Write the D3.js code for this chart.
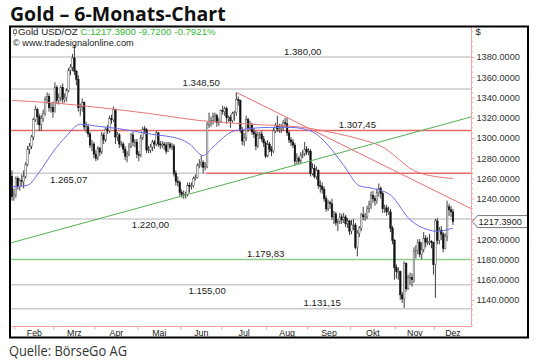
<!DOCTYPE html>
<html>
<head>
<meta charset="utf-8">
<script src="https://cdn.jsdelivr.net/npm/d3@7"></script>
<style>
  body { margin: 0; background: #fff; }
  svg { display: block; }
  text { font-family: "Liberation Sans", Arial, sans-serif; }
</style>
</head>
<body>
<svg id="chart" width="540" height="362"></svg>
<script>
// daily bars per month, [day, open, high, low, close] (2014)
const jan = [[30,1262,1268,1238,1242],[31,1242,1250,1238,1244]];
const feb = [[3,1244,1262,1241,1260],[4,1260,1262,1249,1252],[5,1252,1260,1248,1258],[6,1258,1264,1252,1257],[7,1257,1268,1250,1262],
  [10,1262,1276,1260,1274],[11,1274,1292,1272,1289],[12,1289,1295,1284,1292],[13,1292,1303,1289,1301],[14,1301,1320,1298,1318],
  [17,1318,1332,1316,1328],[18,1328,1330,1313,1321],[19,1321,1324,1307,1313],[20,1313,1323,1307,1319],[21,1319,1328,1316,1324],
  [24,1324,1341,1322,1338],[25,1338,1345,1334,1341],[26,1341,1344,1326,1330],[27,1330,1335,1325,1330],[28,1330,1336,1320,1326]];
const mar = [[3,1326,1355,1325,1350],[4,1350,1352,1334,1337],[5,1337,1344,1333,1340],[6,1340,1352,1336,1350],[7,1350,1354,1334,1338],
  [10,1338,1344,1335,1340],[11,1340,1349,1336,1347],[12,1347,1369,1345,1367],[13,1367,1373,1362,1370],[14,1370,1383,1366,1379],
  [17,1379,1392,1362,1366],[18,1366,1367,1352,1358],[19,1358,1362,1326,1330],[20,1330,1334,1322,1331],[21,1331,1339,1326,1335],
  [24,1335,1336,1308,1311],[25,1311,1316,1305,1311],[26,1311,1314,1301,1304],[27,1304,1306,1290,1293],[28,1293,1298,1287,1294],
  [31,1294,1296,1280,1284]];
const apr = [[1,1284,1288,1277,1280],[2,1280,1292,1278,1290],[3,1290,1291,1282,1286],[4,1286,1306,1284,1303],
  [7,1303,1305,1294,1298],[8,1298,1311,1296,1309],[9,1309,1313,1304,1307],[10,1307,1322,1305,1319],[11,1319,1323,1314,1318],
  [14,1318,1331,1316,1328],[15,1328,1329,1294,1301],[16,1301,1306,1297,1303],[17,1303,1305,1290,1294],[18,1294,1297,1291,1294],
  [21,1294,1296,1285,1289],[22,1289,1292,1278,1282],[23,1282,1287,1276,1284],[24,1284,1295,1282,1292],[25,1292,1305,1290,1303],
  [28,1303,1306,1292,1296],[29,1296,1299,1291,1296],[30,1296,1299,1280,1284]];
const may = [[1,1284,1287,1277,1283],[2,1283,1303,1281,1300],
  [5,1300,1311,1298,1309],[6,1309,1312,1304,1308],[7,1308,1310,1285,1288],[8,1288,1292,1285,1288],[9,1288,1294,1285,1291],
  [12,1291,1298,1287,1296],[13,1296,1298,1289,1294],[14,1294,1307,1292,1305],[15,1305,1306,1291,1294],[16,1294,1297,1289,1293],
  [19,1293,1297,1290,1294],[20,1294,1296,1288,1293],[21,1293,1296,1284,1287],[22,1287,1296,1286,1294],[23,1294,1296,1289,1291],
  [26,1291,1295,1288,1292],[27,1292,1294,1262,1265],[28,1265,1268,1253,1257],[29,1257,1262,1252,1256],[30,1256,1258,1242,1246]];
const jun = [[2,1246,1249,1241,1244],[3,1244,1248,1240,1244],[4,1244,1247,1240,1244],[5,1244,1256,1242,1253],[6,1253,1256,1246,1252],
  [9,1252,1256,1249,1253],[10,1253,1262,1251,1260],[11,1260,1264,1258,1261],[12,1261,1275,1260,1273],[13,1273,1279,1270,1274],
  [16,1274,1283,1271,1276],[17,1276,1278,1265,1271],[18,1271,1276,1268,1272],[19,1272,1316,1270,1313],[20,1313,1325,1310,1316],
  [23,1316,1321,1311,1317],[24,1317,1325,1313,1321],[25,1321,1325,1316,1322],[26,1322,1324,1311,1315],[27,1315,1320,1312,1316],
  [30,1316,1328,1315,1327]];
const jul = [[1,1327,1332,1323,1326],[2,1326,1331,1322,1329],[3,1329,1331,1314,1320],[4,1320,1322,1316,1320],
  [7,1320,1323,1310,1317],[8,1317,1326,1315,1324],[9,1324,1327,1317,1325],[10,1325,1345,1322,1338],[11,1338,1341,1332,1337],
  [14,1337,1338,1305,1308],[15,1308,1311,1293,1297],[16,1297,1305,1292,1300],[17,1300,1322,1297,1318],[18,1318,1320,1306,1310],
  [21,1310,1317,1308,1313],[22,1313,1315,1303,1306],[23,1306,1310,1300,1304],[24,1304,1307,1288,1292],[25,1292,1306,1290,1303],
  [28,1303,1306,1299,1304],[29,1304,1307,1296,1299],[30,1299,1302,1291,1295],[31,1295,1297,1280,1282]];
const aug = [[1,1282,1298,1281,1294],
  [4,1294,1296,1286,1289],[5,1289,1292,1282,1287],[6,1287,1310,1285,1307],[7,1307,1315,1305,1312],[8,1312,1322,1306,1309],
  [11,1309,1314,1305,1309],[12,1309,1314,1305,1311],[13,1311,1318,1307,1315],[14,1315,1320,1311,1314],[15,1314,1320,1302,1305],
  [18,1305,1307,1295,1298],[19,1298,1301,1292,1296],[20,1296,1299,1290,1293],[21,1293,1295,1273,1277],[22,1277,1285,1274,1280],
  [25,1280,1282,1274,1277],[26,1277,1286,1275,1283],[27,1283,1288,1280,1284],[28,1284,1296,1282,1289],[29,1289,1292,1283,1286]];
const sep = [[1,1286,1290,1283,1287],[2,1287,1289,1262,1265],[3,1265,1275,1263,1270],[4,1270,1274,1260,1262],[5,1262,1272,1259,1268],
  [8,1268,1269,1250,1253],[9,1253,1258,1246,1252],[10,1252,1256,1245,1249],[11,1249,1252,1237,1240],[12,1240,1243,1227,1230],
  [15,1230,1239,1228,1236],[16,1236,1238,1230,1235],[17,1235,1240,1219,1222],[18,1222,1228,1215,1225],[19,1225,1227,1213,1216],
  [22,1216,1220,1208,1217],[23,1217,1226,1215,1222],[24,1222,1225,1215,1219],[25,1219,1226,1216,1222],[26,1222,1224,1212,1215],
  [29,1215,1221,1211,1218],[30,1218,1219,1204,1208]];
const oct = [[1,1208,1219,1205,1214],[2,1214,1220,1209,1214],[3,1214,1216,1190,1192],
  [6,1192,1209,1183,1206],[7,1206,1213,1202,1211],[8,1211,1226,1208,1224],[9,1224,1232,1219,1222],[10,1222,1226,1218,1222],
  [13,1222,1233,1220,1230],[14,1230,1238,1226,1234],[15,1234,1247,1230,1243],[16,1243,1248,1236,1240],[17,1240,1243,1233,1238],
  [20,1238,1250,1235,1246],[21,1246,1255,1242,1250],[22,1250,1252,1240,1245],[23,1245,1247,1226,1230],[24,1230,1234,1226,1231],
  [27,1231,1234,1223,1227],[28,1227,1232,1224,1227],[29,1227,1230,1207,1211],[30,1211,1213,1195,1199],[31,1199,1200,1160,1172]];
const nov = [[3,1172,1175,1161,1168],[4,1168,1172,1160,1168],[5,1168,1169,1140,1145],[6,1145,1148,1137,1141],[7,1141,1178,1132,1176],
  [10,1176,1177,1148,1151],[11,1151,1165,1150,1162],[12,1162,1167,1155,1162],[13,1162,1166,1153,1160],[14,1160,1192,1157,1188],
  [17,1188,1194,1181,1189],[18,1189,1200,1185,1197],[19,1197,1200,1182,1185],[20,1185,1197,1180,1190],[21,1190,1207,1187,1201],
  [24,1201,1204,1192,1197],[25,1197,1202,1194,1197],[26,1197,1205,1194,1198],[27,1198,1199,1191,1197],[28,1197,1197,1165,1175]];
const dec = [[1,1175,1220,1142,1218],[2,1218,1221,1195,1199],[3,1199,1212,1195,1209],[4,1209,1213,1199,1205],[5,1205,1207,1187,1191],
  [8,1191,1206,1190,1203],[9,1203,1238,1198,1232],[10,1232,1235,1223,1229],[11,1229,1233,1222,1227],[12,1227,1230,1214,1217.39]];

// moving averages
const maRedDays = ['2014-01-30','2014-02-26','2014-04-03','2014-05-09','2014-06-12','2014-07-21','2014-08-26','2014-09-16','2014-10-07','2014-10-22','2014-11-18','2014-12-12'];
const maRedValues = [1337, 1335, 1330, 1324, 1317.5, 1313.6, 1310.7, 1305.8, 1299, 1292, 1266, 1260];
const maBlueDays = ['2014-01-30','2014-02-11','2014-02-19','2014-02-28','2014-03-11','2014-03-20','2014-04-03','2014-04-16','2014-05-09',
  '2014-05-30','2014-06-06','2014-06-17','2014-06-24','2014-07-09','2014-08-04','2014-08-19','2014-09-02','2014-09-11','2014-09-25',
  '2014-10-07','2014-10-16','2014-10-29','2014-11-12','2014-11-25','2014-12-02','2014-12-12'];
const maBlueValues = [1251.8, 1253.3, 1266.4, 1286, 1302.2, 1313.6, 1311.3, 1309.4, 1303.8, 1299, 1294, 1282.6, 1291, 1307,
  1310.4, 1310.4, 1307, 1297, 1272.9, 1252.8, 1250.1, 1243.6, 1219.2, 1209.4, 1207.8, 1211];

// trend lines: green runs edge to edge, red starts at the July high
const greenTrend = [1196.4, 1320.9];
const redTrendStart = ['2014-07-10', 1345];
const redTrendEnd = 1230;

// horizontal levels
const levelValues = [1380, 1348.5, 1307.45, 1265.07, 1220, 1179.83, 1155, 1131.15];
const levelLabels = ['1.380,00', '1.348,50', '1.307,45', '1.265,07', '1.220,00', '1.179,83', '1.155,00', '1.131,15'];
const levelLabelDays = ['2014-08-27','2014-06-16','2014-10-06','2014-03-12','2014-05-09','2014-07-31','2014-06-19','2014-09-10'];
const splitDay = '2014-06-19';

const monthNames = ['Feb', 'Mrz', 'Apr', 'Mai', 'Jun', 'Jul', 'Aug', 'Sep', 'Okt', 'Nov', 'Dez'];
const axisTicks = d3.range(1140, 1381, 20);
const lastClose = 1217.39;
const quote = ['Gold USD/OZ', 'C:1217.3900 -9.7200 -0.7921%'];

/*global d3*/
let svg = d3.select('#chart');
let plot = { left: 11, right: 471.5, top: 26.5, bottom: 326.5 };

let bars = [];
[jan, feb, mar, apr, may, jun, jul, aug, sep, oct, nov, dec].forEach((rows, m) => {
	rows.forEach(r => bars.push({ date: new Date(2014, m, r[0]), o: r[1], h: r[2], l: r[3], c: r[4] }));
});
let dayKey = d3.timeFormat('%Y-%m-%d');
let barIndex = new Map(bars.map((b, i) => [dayKey(b.date), i]));

// 9 empty bar slots on the right before the axis
let x = d3.scaleLinear().domain([-0.5, bars.length - 0.5 + 9]).range([plot.left, plot.right]);
let y = d3.scaleLinear().domain([1140, 1380]).range([299.9, 57]);

svg.append('defs').append('clipPath').attr('id', 'plot-clip')
	.append('rect')
	.attr('x', plot.left).attr('y', plot.top)
	.attr('width', plot.right - plot.left).attr('height', plot.bottom - plot.top);

let g = svg.append('g').attr('clip-path', 'url(#plot-clip)');

// level lines
let grey = '#cbcbcb', red = '#e46a6a', green = '#8ccf8c';
let levelColor = { 1307.45: red, 1179.83: green };
levelValues.forEach(v => {
	let ly = y(v);
	if (v === 1265.07) {
		let xs = x(barIndex.get(splitDay) - 0.5);
		g.append('line').attr('x1', plot.left).attr('x2', xs).attr('y1', ly).attr('y2', ly)
			.attr('stroke', grey).attr('stroke-width', 1.5);
		g.append('line').attr('x1', xs).attr('x2', plot.right).attr('y1', ly).attr('y2', ly)
			.attr('stroke', red).attr('stroke-width', 1.5);
	} else {
		g.append('line').attr('x1', plot.left).attr('x2', plot.right).attr('y1', ly).attr('y2', ly)
			.attr('stroke', levelColor[v] || grey).attr('stroke-width', 1.5);
	}
});

// candles
let candle = g.append('g').selectAll('g').data(bars).join('g');
candle.append('line')
	.attr('x1', (d, i) => x(i)).attr('x2', (d, i) => x(i))
	.attr('y1', d => y(d.h)).attr('y2', d => y(d.l))
	.attr('stroke', '#2a2a2a').attr('stroke-width', 0.9);
candle.append('rect')
	.attr('x', (d, i) => x(i) - 0.8)
	.attr('width', 1.6)
	.attr('y', d => y(Math.max(d.o, d.c)))
	.attr('height', d => Math.max(0.8, Math.abs(y(d.o) - y(d.c))))
	.attr('fill', d => d.c >= d.o ? '#f4f4f4' : '#111')
	.attr('stroke', d => d.c >= d.o ? '#555' : '#111')
	.attr('stroke-width', 0.5);

// moving averages
let line = d3.line().x(d => x(barIndex.get(d[0]))).y(d => y(d[1])).curve(d3.curveMonotoneX);
g.append('path').datum(d3.zip(maRedDays, maRedValues))
	.attr('d', line).attr('fill', 'none').attr('stroke', '#e77575').attr('stroke-width', 1);
g.append('path').datum(d3.zip(maBlueDays, maBlueValues))
	.attr('d', line).attr('fill', 'none').attr('stroke', '#6c6cee').attr('stroke-width', 1);

// trend lines
g.append('line')
	.attr('x1', plot.left).attr('y1', y(greenTrend[0]))
	.attr('x2', plot.right).attr('y2', y(greenTrend[1]))
	.attr('stroke', '#55b055').attr('stroke-width', 1);
g.append('line')
	.attr('x1', x(barIndex.get(redTrendStart[0]))).attr('y1', y(redTrendStart[1]))
	.attr('x2', plot.right).attr('y2', y(redTrendEnd))
	.attr('stroke', '#e77070').attr('stroke-width', 1);

// level labels
let below = new Set([1265.07, 1220, 1155]);
levelValues.forEach((v, i) => {
	g.append('text')
		.attr('x', x(barIndex.get(levelLabelDays[i])))
		.attr('y', y(v) + (below.has(v) ? 9.5 : -2.5))
		.attr('text-anchor', 'middle')
		.attr('font-size', 9.6)
		.attr('fill', '#222')
		.text(levelLabels[i]);
});

// right axis; the 1220 label sits under the last-price box, so it gets no text
let pink = '#f0a4a4';
let axisR = svg.append('g').attr('transform', `translate(${plot.right},0)`)
	.call(d3.axisRight(y).tickValues(axisTicks).tickSize(3).tickPadding(2)
		.tickFormat(v => Math.abs(y(v) - y(lastClose)) < 8 ? '' : d3.format('.4f')(v)));
axisR.select('.domain').remove();
axisR.selectAll('.tick line').attr('stroke', pink);
axisR.selectAll('.tick text').attr('fill', '#333').attr('font-size', 9.2)
	.style('font-family', '"Liberation Sans", Arial, sans-serif');
svg.append('g').selectAll('line')
	.data(d3.range(1115, 1406, 5).filter(v => v % 20 !== 0))
	.join('line')
	.attr('x1', plot.right).attr('x2', plot.right + 1.5)
	.attr('y1', d => y(d)).attr('y2', d => y(d))
	.attr('stroke', pink);
svg.append('line').attr('x1', plot.right).attr('x2', plot.right)
	.attr('y1', plot.top).attr('y2', plot.bottom).attr('stroke', pink);
svg.append('text').attr('x', plot.right + 4).attr('y', plot.top + 8)
	.attr('font-size', 9.5).attr('fill', '#222').text('$');

// last price box
let py = y(lastClose);
svg.append('path')
	.attr('d', `M${plot.right + 1},${py} L${plot.right + 6},${py - 6} H${plot.right + 56} V${py + 6} H${plot.right + 6} Z`)
	.attr('fill', '#fff').attr('stroke', '#555').attr('stroke-width', 0.8);
svg.append('text').attr('x', plot.right + 7).attr('y', py + 3.3)
	.attr('font-size', 9.2).attr('fill', '#222').text(d3.format('.4f')(lastClose));

// bottom axis
svg.append('line').attr('x1', plot.left).attr('x2', plot.right)
	.attr('y1', plot.bottom).attr('y2', plot.bottom).attr('stroke', pink);
let monthStarts = monthNames.map((m, k) => bars.findIndex(b => b.date.getMonth() === k + 1));
monthStarts.forEach((s, k) => {
	let tx = x(s - 0.5);
	let nx = k < monthStarts.length - 1 ? x(monthStarts[k + 1] - 0.5) : plot.right;
	svg.append('line').attr('x1', tx).attr('x2', tx)
		.attr('y1', plot.bottom).attr('y2', plot.bottom + 3).attr('stroke', pink);
	svg.append('text').attr('x', (tx + nx) / 2).attr('y', plot.bottom + 9)
		.attr('text-anchor', 'middle').attr('font-size', 8.8).attr('fill', '#222')
		.text(monthNames[k]);
});

// frame
svg.append('rect').attr('x', 10).attr('y', 26.5).attr('width', 518).attr('height', 311)
	.attr('fill', 'none').attr('stroke', '#000').attr('stroke-width', 2);

// legend
svg.append('line').attr('x1', 15).attr('x2', 15).attr('y1', 28.5).attr('y2', 36)
	.attr('stroke', '#555').attr('stroke-width', 0.8);
svg.append('rect').attr('x', 13.5).attr('y', 30).attr('width', 3).attr('height', 3.5)
	.attr('fill', '#fff').attr('stroke', '#555').attr('stroke-width', 0.8);
let leg = svg.append('text').attr('x', 18).attr('y', 35).attr('font-size', 9.7).attr('fill', '#222');
leg.append('tspan').text(quote[0] + ' ');
leg.append('tspan').attr('fill', '#35b835').text(quote[1]);
svg.append('text').attr('x', 13).attr('y', 45.5).attr('font-size', 9.2).attr('fill', '#222')
	.text('\u00a9 www.tradesignalonline.com');

// title and source
svg.append('text').attr('x', 10).attr('y', 20.5)
	.style('font-family', '"Open Sans", sans-serif').attr('font-weight', 700).attr('font-size', 19.5)
	.attr('fill', '#111').text('Gold \u2013 6-Monats-Chart');
svg.append('text').attr('x', 9).attr('y', 356)
	.style('font-family', '"Liberation Sans Narrow", "Open Sans", sans-serif').attr('font-size', 14.5)
	.attr('fill', '#333').attr('textLength', 118).attr('lengthAdjust', 'spacingAndGlyphs')
	.text('Quelle: BörseGo AG');
</script>
</body>
</html>
